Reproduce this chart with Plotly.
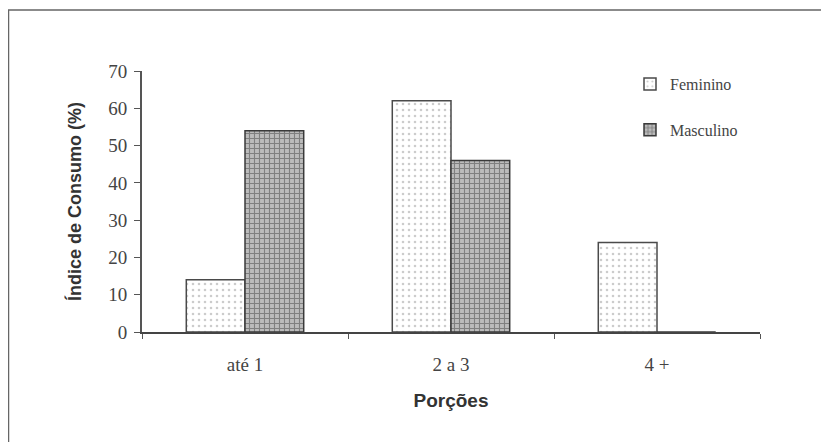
import plotly.graph_objects as go

categories = ["até 1", "2 a 3", "4 +"]
feminino = [14, 62, 24]
masculino = [54, 46, 0]
y_ticks = [0, 10, 20, 30, 40, 50, 60, 70]

W, H = 829, 442
OFF = 8  # page body margin
L, T = 142 - OFF, 71 - OFF
R = W - (760 - OFF)
B = H - (332 - OFF)
pw, ph = W - L - R, H - T - B

def px_x(x):
    return (x - OFF - L) / pw

def px_y(y):
    return (H - B - (y - OFF)) / ph

fig = go.Figure()
fig.add_trace(go.Bar(
    x=categories, y=feminino, name="Feminino", legendgroup="f",
    marker=dict(color="white", line=dict(color="#4a4a4a", width=1.5),
                pattern=dict(shape=".", fgcolor="#999", size=6, solidity=0.15)),
))
fig.add_trace(go.Bar(
    x=categories, y=masculino, name="Masculino", legendgroup="m",
    marker=dict(color="#bcbcbc", line=dict(color="#3a3a3a", width=1.5),
                pattern=dict(shape="+", fgcolor="#444", size=5, solidity=0.4)),
))

fig.update_layout(
    width=W, height=H,
    margin=dict(l=L, r=R, t=T, b=B),
    paper_bgcolor="white", plot_bgcolor="white",
    barmode="group", bargap=0.43, bargroupgap=0,
    showlegend=True,
    legend=dict(x=px_x(630), y=px_y(67), xanchor="left", yanchor="top",
                font=dict(family="Liberation Serif", size=16, color="#444"),
                tracegroupgap=22, bgcolor="rgba(0,0,0,0)"),
    xaxis=dict(
        tickson="boundaries", ticks="outside", ticklen=5, tickcolor="#555",
        showline=True, linecolor="#444", linewidth=1.5,
        tickfont=dict(family="Liberation Serif", size=19, color="#444"),
        ticklabelstandoff=14,
        title=dict(text="<b>Porções</b>", font=dict(family="Liberation Sans", size=19, color="#333"),
                   standoff=20),
        showgrid=False,
    ),
    yaxis=dict(
        range=[0, 70], tickvals=y_ticks, ticks="outside", ticklen=6, tickcolor="#555",
        showline=True, linecolor="#555", linewidth=2,
        tickfont=dict(family="Liberation Serif", size=19, color="#444"),
        ticklabelstandoff=3,
        title=dict(text="<b>Índice de Consumo (%)</b>", font=dict(family="Liberation Sans", size=18, color="#333"),
                   standoff=22),
        showgrid=False, zeroline=False,
    ),
    shapes=[dict(type="rect", xref="paper", yref="paper",
                 x0=px_x(8.5), x1=px_x(900), y0=px_y(470), y1=px_y(10),
                 line=dict(color="#666", width=1.5))],
)

fig.write_html("out.html")
